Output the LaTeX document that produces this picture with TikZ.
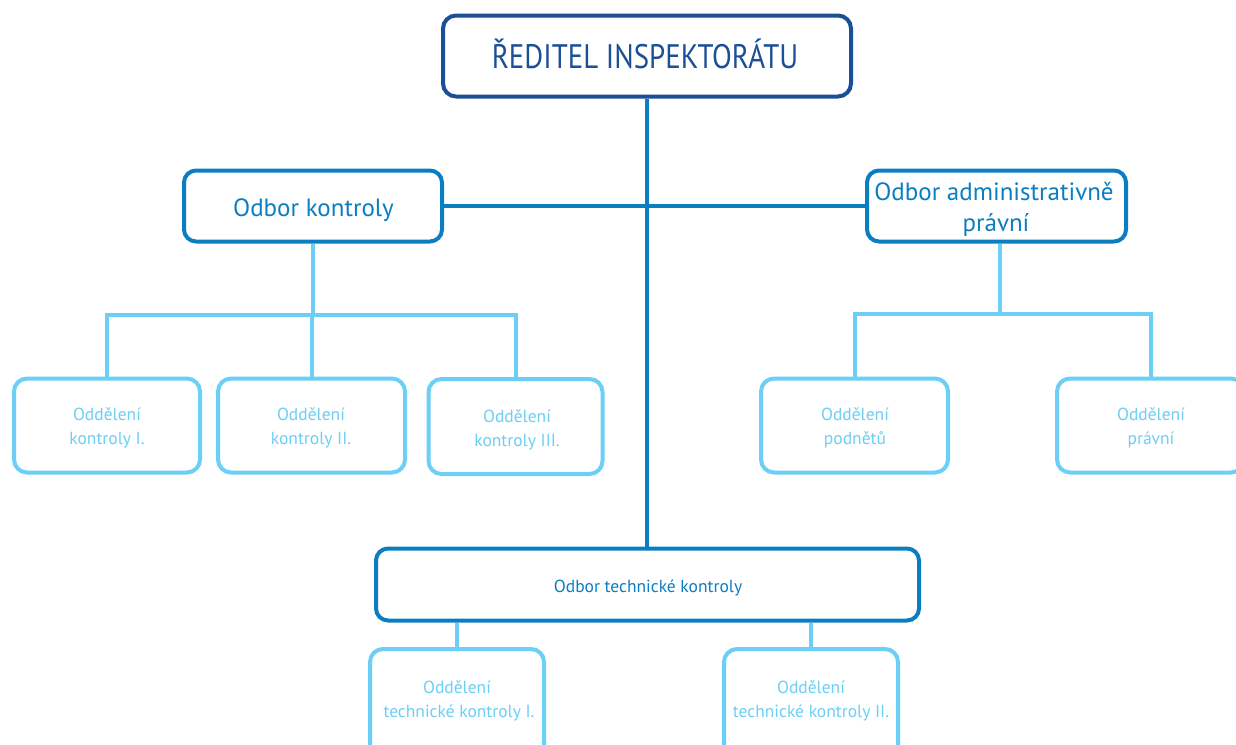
\documentclass[tikz,border=0pt]{standalone}
\usepackage{fontspec}
\setmainfont{PT Sans}
\newfontfamily\narrowfont[FakeStretch=0.85]{PT Sans}
\definecolor{topc}{HTML}{1B4F96}
\definecolor{midc}{HTML}{0B7EC2}
\definecolor{lightc}{HTML}{6CCFF6}
\begin{document}
\begin{tikzpicture}[x=1pt,y=-1pt,
  topbox/.style={draw=topc,line width=4pt,rounded corners=13pt,fill=white,
    minimum width=408pt,minimum height=81pt},
  midbox/.style={draw=midc,line width=4pt,rounded corners=12pt,fill=white,minimum height=71pt},
  lightbox/.style={draw=lightc,line width=4pt,rounded corners=13pt,fill=white,minimum height=94pt},
  techbox/.style={draw=midc,line width=4pt,rounded corners=12pt,fill=white,
    minimum width=543pt,minimum height=72pt},
  toptext/.style={anchor=base,inner sep=0pt,text=topc,font=\narrowfont\fontsize{34}{40}\selectfont},
  midtext/.style={anchor=base,inner sep=0pt,text=midc,font=\fontsize{25}{30}\selectfont},
  techtext/.style={anchor=base,inner sep=0pt,text=midc,font=\fontsize{17.5}{21}\selectfont},
  lighttext/.style={anchor=base,inner sep=0pt,text=lightc,font=\fontsize{17.5}{21}\selectfont},
  midline/.style={draw=midc,line width=4pt},
  lightline/.style={draw=lightc,line width=4pt}]
\useasboundingbox (0,0) rectangle (1236,744);
% boxes
\node[topbox] (top) at (647,56) {};
\node[midbox,minimum width=258pt] (ok) at (313,206) {};
\node[midbox,minimum width=259pt] (oa) at (996.5,206) {};
\node[lightbox,minimum width=186pt] (k1) at (107,425.5) {};
\node[lightbox,minimum width=187pt] (k2) at (311.5,425.5) {};
\node[lightbox,minimum width=174pt,minimum height=95pt] (k3) at (515.5,426.5) {};
\node[lightbox,minimum width=187pt] (p1) at (854.5,425.5) {};
\node[lightbox,minimum width=187pt] (p2) at (1150.5,425.5) {};
\node[techbox] (tech) at (647.5,584.5) {};
\node[lightbox,minimum width=174pt,minimum height=110pt] (t1) at (457,704) {};
\node[lightbox,minimum width=174pt,minimum height=110pt] (t2) at (811,704) {};
% texts
\node[toptext] (topT) at (645,68) {ŘEDITEL INSPEKTORÁTU};
\node[midtext] (okT) at (313.5,216) {Odbor kontroly};
\node[midtext] (oaT1) at (994,200) {Odbor administrativně};
\node[midtext] (oaT2) at (996,231) {právní};
\node[lighttext] (k1T1) at (107,420.5) {Oddělení};
\node[lighttext] (k1T2) at (107,444) {kontroly I.};
\node[lighttext] (k2T1) at (311,420.5) {Oddělení};
\node[lighttext] (k2T2) at (311,444) {kontroly II.};
\node[lighttext] (k3T1) at (517,422.5) {Oddělení};
\node[lighttext] (k3T2) at (517,446) {kontroly III.};
\node[lighttext] (p1T1) at (855,420.5) {Oddělení};
\node[lighttext] (p1T2) at (855,444) {podnětů};
\node[lighttext] (p2T1) at (1151,420.5) {Oddělení};
\node[lighttext] (p2T2) at (1151,444) {právní};
\node[techtext] (techT) at (648,592) {Odbor technické kontroly};
\node[lighttext] (t1T1) at (457,693) {Oddělení};
\node[lighttext] (t1T2) at (459,717) {technické kontroly I.};
\node[lighttext] (t2T1) at (811,693) {Oddělení};
\node[lighttext] (t2T2) at (811,717) {technické kontroly II.};
% connectors
\coordinate (lj) at (313,315);
\coordinate (rj) at (1000,314);
\draw[midline] (top.south) -- (top.south |- tech.north);
\draw[midline] (ok.east) -- (oa.west);
\draw[lightline] (ok.south) -- (lj);
\draw[lightline] (k1.north) |- (lj) -| (k3.north);
\draw[lightline] (k2.north) -- (k2.north |- lj);
\draw[lightline] (rj |- oa.south) -- (rj);
\draw[lightline] (p1.north) |- (rj) -| (p2.north);
\draw[lightline] (t1.north) -- (t1.north |- tech.south);
\draw[lightline] (t2.north) -- (t2.north |- tech.south);
\end{tikzpicture}
\end{document}
